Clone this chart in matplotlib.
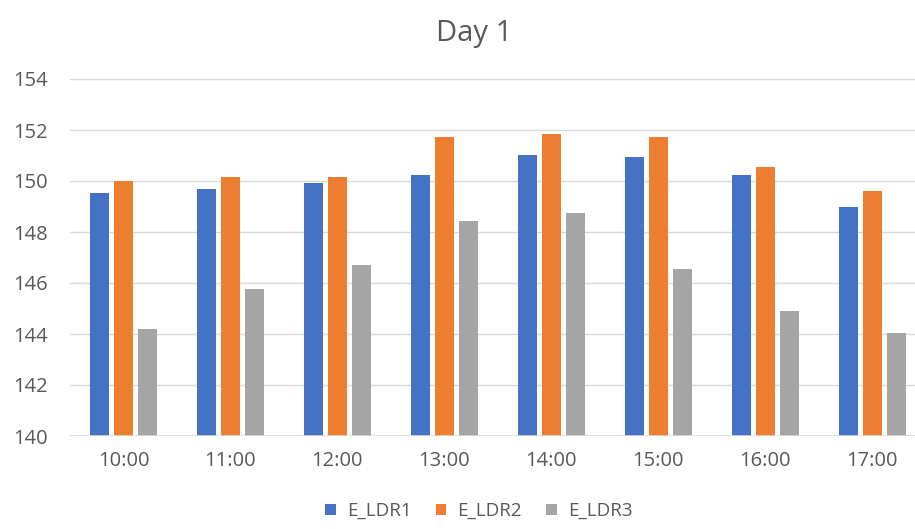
import numpy as np
import matplotlib
matplotlib.use("Agg")
import matplotlib.pyplot as plt
from matplotlib.patches import Patch

hours = ["10:00", "11:00", "12:00", "13:00", "14:00", "15:00", "16:00", "17:00"]
e_ldr1 = [149.54, 149.70, 149.93, 150.25, 151.02, 150.94, 150.25, 148.99]
e_ldr2 = [150.00, 150.17, 150.17, 151.74, 151.83, 151.74, 150.55, 149.62]
e_ldr3 = [144.19, 145.75, 146.70, 148.44, 148.74, 146.54, 144.89, 144.02]

plt.rcParams["font.family"] = ["Open Sans", "DejaVu Sans"]
txt = "#595959"

fig = plt.figure(figsize=(9.15, 5.29), dpi=100)
ax = fig.add_axes([70 / 915, 1 - 436 / 529, 1 - 70 / 915, (436 - 79) / 529])

x = np.arange(len(hours))
w = 0.18
step = 0.225
series = [(e_ldr1, "#4472C4", "E_LDR1"), (e_ldr2, "#ED7D31", "E_LDR2"), (e_ldr3, "#A5A5A5", "E_LDR3")]
for i, (vals, col, name) in enumerate(series):
    ax.bar(x + (i - 1) * step, np.array(vals) - 140, width=w, bottom=140, color=col, zorder=3)

ax.set_ylim(140, 154)
ax.set_yticks(range(140, 155, 2))
ax.set_xlim(-0.5, 7.4)
ax.set_xticks(x)
ax.set_xticklabels(hours)
ax.yaxis.grid(True, color="#d9d9d9", linewidth=1, zorder=0)
for s in ax.spines.values():
    s.set_visible(False)
ax.tick_params(length=0, colors=txt)
ax.tick_params(axis="x", labelsize=14.5, pad=11)
ax.tick_params(axis="y", labelsize=14.5, pad=16)
ax.axhline(140, color="#d9d9d9", linewidth=1.2, zorder=4)

fig.text(474 / 915, 1 - 34 / 529, "Day 1", ha="center", va="center", fontsize=21, color=txt)

handles = [Patch(facecolor=c, label=n) for _, c, n in series]
fig.legend(handles=handles, loc="center", bbox_to_anchor=(479 / 915, 1 - 511 / 529), ncol=3,
           frameon=False, fontsize=13.5, labelcolor=txt, handlelength=0.55, handleheight=0.55,
           handletextpad=0.6, columnspacing=1.3)

fig.savefig("out.png", dpi=100)
